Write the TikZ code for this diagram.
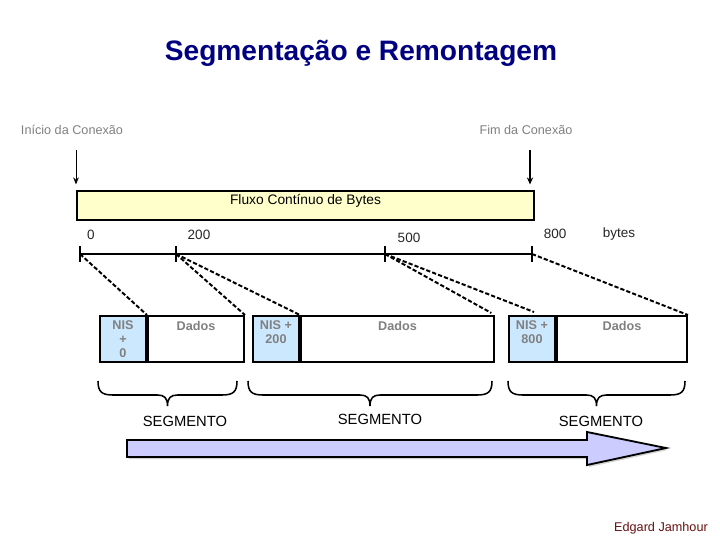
\documentclass[tikz,border=0pt]{standalone}
\usepackage{fontspec}
\setmainfont{Liberation Sans}
\usetikzlibrary{arrows.meta,calc,positioning}
\definecolor{navytitle}{RGB}{0,0,128}
\definecolor{fluxofill}{RGB}{255,255,204}
\definecolor{nisfill}{RGB}{204,232,255}
\definecolor{setafill}{RGB}{204,204,255}
\definecolor{autorcor}{RGB}{102,16,16}

\begin{document}
\begin{tikzpicture}[
  x=0.025cm, y=-0.025cm,
  rot/.style={font=\fontsize{9}{11}\selectfont, text=gray},
  num/.style={font=\fontsize{9.6}{11}\selectfont, text=black!85},
  cel/.style={draw, line width=1.4pt, minimum height=1.15cm, inner sep=0pt},
  nis/.style={cel, fill=nisfill, minimum width=1.15cm, anchor=north west},
  dados/.style={cel, fill=white},
  celtxt/.style={font=\bfseries\fontsize{9}{10}\selectfont, text=gray, align=center, inner sep=0pt},
  tracej/.style={line width=1.4pt, dash pattern=on 3pt off 1.5pt},
  chave/.style={line width=1.1pt},
  seg/.style={font=\fontsize{10.5}{12}\selectfont}
]
\useasboundingbox (0,0) rectangle (720,540);

% titulo e marcas da conexao
\node[font=\bfseries\fontsize{20}{24}\selectfont, text=navytitle] (titulo) at (361,53) {Segmentação e Remontagem};
\node[rot] (lini) at (72,130) {Início da Conexão};
\node[rot] (lfim) at (526,130) {Fim da Conexão};

\node[draw, line width=1.3pt, fill=fluxofill, minimum width=11.425cm, minimum height=0.725cm,
      inner sep=0pt, text depth=0.3cm, font=\fontsize{9.8}{11}\selectfont] (fluxo) at (305.5,205.5) {Fluxo Contínuo de Bytes};

\coordinate (ini) at (76,150);
\coordinate (fim) at (530,150);
\draw[-{Stealth[length=5pt,width=4pt]}, line width=0.6pt, shorten >=4pt] (ini) -- (ini |- fluxo.north);
\draw[-{Stealth[length=5pt,width=4.5pt]}, line width=1.3pt, shorten >=4pt] (fim) -- (fim |- fluxo.north);

% eixo de bytes
\node[num] (n0) at (91,235) {0};
\node[num] (n200) at (199,235) {200};
\node[num] (n500) at (409,238) {500};
\node[num] (n800) at (555,234) {800};
\node[num] (nbytes) at (619,234) {bytes};

\coordinate (b0) at (80,254);
\coordinate (b200) at (176,254);
\coordinate (b500) at (385,254);
\coordinate (b800) at (532,254);
\draw[line width=1.3pt] (b0) -- (b800);
\foreach \t in {b0,b200,b500,b800}
  \draw[line width=1.3pt] ($(\t)+(0,-8)$) -- ($(\t)+(0,8)$);

% segmentos
\node[nis] (nis1) at (99,315) {};
\node[dados, minimum width=2.4cm, right=0pt of nis1] (dad1) {};
\node[nis] (nis2) at (252,315) {};
\node[dados, minimum width=4.825cm, right=0pt of nis2] (dad2) {};
\node[nis] (nis3) at (508,315) {};
\node[dados, minimum width=3.25cm, right=0pt of nis3] (dad3) {};

\node[celtxt, below=4pt of nis1.north] (tn1) {NIS\\+\\0};
\node[celtxt, below=4pt of dad1.north] (td1) {Dados};
\node[celtxt, below=4pt of nis2.north] (tn2) {NIS +\\200};
\node[celtxt, below=4pt of dad2.north] (td2) {Dados};
\node[celtxt, below=4pt of nis3.north] (tn3) {NIS +\\800};
\node[celtxt, below=4pt of dad3.north] (td3) {Dados};

\coordinate (fim500) at (534,312);
\draw[tracej] (b0) -- (nis1.north east);
\draw[tracej] (b200) -- (dad1.north east);
\draw[tracej] (b200) -- (nis2.north east);
\draw[tracej, shorten >=3pt] (b500) -- (dad2.north east);
\draw[tracej] (b500) -- (fim500);
\draw[tracej] (b800) -- (dad3.north east);

% chaves
\foreach \a/\b in {98/237, 248/492, 508/685}{
  \pgfmathsetmacro\m{(\a+\b)/2}
  \draw[chave] (\a,381) .. controls (\a,392) and (\a+4,395) .. (\a+15,395)
    -- (\m-10,395) .. controls (\m-3,395) and (\m,398) .. (\m,406)
    .. controls (\m,398) and (\m+3,395) .. (\m+10,395)
    -- (\b-15,395) .. controls (\b-4,395) and (\b,392) .. (\b,381);
}
\node[seg] (s1) at (185,421) {SEGMENTO};
\node[seg] (s2) at (380,419) {SEGMENTO};
\node[seg] (s3) at (601,421) {SEGMENTO};

% seta de fluxo
\fill[gray!35] (129,442) -- (589,442) -- (589,434) -- (668,450) -- (589,467) -- (589,459) -- (129,459) -- cycle;
\draw[line width=1.3pt, fill=setafill] (127,440) -- (587,440) -- (587,432) -- (666,448) -- (587,465) -- (587,457) -- (127,457) -- cycle;

\node[font=\fontsize{9}{11}\selectfont, text=autorcor] (autor) at (661,528) {Edgard Jamhour};
\end{tikzpicture}
\end{document}
